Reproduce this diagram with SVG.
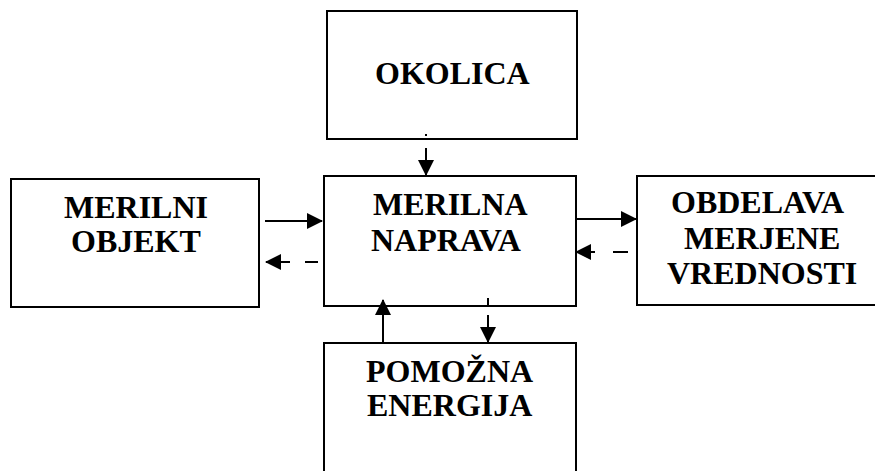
<svg xmlns="http://www.w3.org/2000/svg" width="875" height="471" viewBox="0 0 875 471">
<style>
.box{fill:#fff;stroke:#000;stroke-width:2}
.ln{stroke:#000;stroke-width:2;fill:none}
</style>
<defs>
<marker id="ah" markerUnits="userSpaceOnUse" markerWidth="16" markerHeight="16" viewBox="0 0 16 16" refX="15" refY="8" orient="auto">
<path d="M0,0 L16,8 L0,16 Z" fill="#000"/>
</marker>
</defs>
<g id="okolica"><rect class="box" x="327" y="11" width="250" height="128"/><text font-family="Liberation Serif" font-weight="bold" font-size="32" x="375" y="84">OKOLICA</text></g>
<g id="merilna"><rect class="box" x="324" y="176" width="252" height="130"/><text font-family="Liberation Serif" font-weight="bold" font-size="32" x="373" y="215">MERILNA</text><text font-family="Liberation Serif" font-weight="bold" font-size="32" x="371" y="251">NAPRAVA</text></g>
<g id="objekt"><rect class="box" x="11" y="179" width="248" height="128"/><text font-family="Liberation Serif" font-weight="bold" font-size="32" x="64" y="218">MERILNI</text><text font-family="Liberation Serif" font-weight="bold" font-size="32" x="71" y="252">OBJEKT</text></g>
<g id="obdelava"><rect class="box" x="637" y="176" width="240" height="129"/><text font-family="Liberation Serif" font-weight="bold" font-size="32" x="671" y="213">OBDELAVA</text><text font-family="Liberation Serif" font-weight="bold" font-size="32" x="684" y="249">MERJENE</text><text font-family="Liberation Serif" font-weight="bold" font-size="32" x="667" y="284">VREDNOSTI</text></g>
<g id="pomozna"><rect class="box" x="324" y="343" width="252" height="132"/><text font-family="Liberation Serif" font-weight="bold" font-size="32" x="366" y="382">POMOŽNA</text><text font-family="Liberation Serif" font-weight="bold" font-size="32" x="367" y="416">ENERGIJA</text></g>
<g id="connectors">
<rect x="425" y="134" width="2" height="2" fill="#000"/>
<line class="ln" x1="426" y1="148" x2="426" y2="175" marker-end="url(#ah)"/>
<line class="ln" x1="265" y1="221" x2="322" y2="221" marker-end="url(#ah)"/>
<line class="ln" x1="318" y1="262" x2="266" y2="262" stroke-dasharray="13 15 28" marker-end="url(#ah)"/>
<line class="ln" x1="576" y1="219" x2="636" y2="219" marker-end="url(#ah)"/>
<line class="ln" x1="628" y1="252" x2="576" y2="252" stroke-dasharray="15 18 30" marker-end="url(#ah)"/>
<line class="ln" x1="383" y1="342" x2="383" y2="300" marker-end="url(#ah)"/>
<line class="ln" x1="488" y1="298" x2="488" y2="305"/>
<line class="ln" x1="488" y1="315" x2="488" y2="342" marker-end="url(#ah)"/>
</g>
</svg>
